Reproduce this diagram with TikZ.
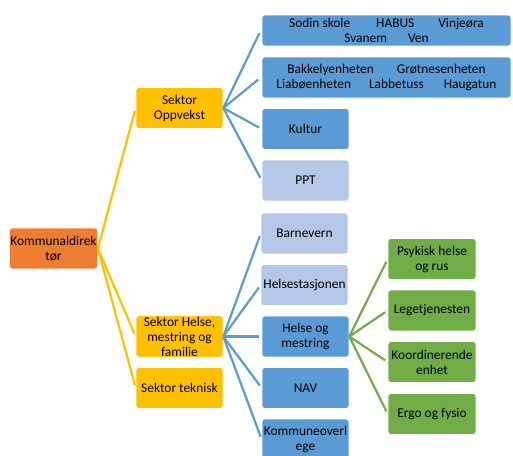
\documentclass[tikz,border=0pt]{standalone}
\usepackage{fontspec}
\setmainfont{Carlito}
\usepackage{xcolor}
\definecolor{orgorange}{RGB}{237,125,49}
\definecolor{orggold}{RGB}{255,192,0}
\definecolor{orgblue}{RGB}{91,155,213}
\definecolor{orglight}{RGB}{180,199,231}
\definecolor{orggreen}{RGB}{112,173,71}
\usepackage{tikz}
\usetikzlibrary{positioning}
\tikzset{
  box/.style      ={rectangle,rounded corners=3pt,draw=white,line width=0.6pt,
                    align=center,inner sep=1pt,minimum width=87pt,minimum height=41pt,
                    font=\fontsize{13.4}{15}\selectfont},
  root/.style     ={box,fill=orgorange},
  sektor/.style   ={box,fill=orggold},
  unit/.style     ={box,fill=orgblue},
  unitlight/.style={box,fill=orglight},
  subunit/.style  ={box,fill=orggreen,minimum width=88pt},
  wideunit/.style ={unit,minimum width=249pt},
  goldlink/.style ={draw=orggold,line width=2.2pt,shorten >=3pt},
  bluelink/.style ={draw=orgblue,line width=2.2pt,shorten >=3pt},
  greenlink/.style={draw=orggreen,line width=2.2pt,shorten >=3pt},
}

\begin{document}
\begin{tikzpicture}[x=1pt,y=-1pt]
  \useasboundingbox (0,0) rectangle (513,455);
  \clip (0,0) rectangle (513,455);

  % ---- top level and sectors -------------------------------------------
  \node[root] (dir) at (53.5,248.5) {Kommunaldirek\\tør};
  \node[sektor] (opp) at (179.5,108) {Sektor\\Oppvekst};
  \node[sektor] (hmf) at (179.5,336.5) {Sektor Helse,\\mestring og\\familie};
  \node[sektor] (tek) at (179.5,388) {Sektor teknisk};

  % ---- oppvekst units ----------------------------------------------------
  \node[wideunit,minimum height=31pt] (sko) at (386.5,30.5)
    {Sodin skole\hspace{26pt}HABUS\hspace{24pt}Vinjeøra\\Svanem\hspace{21pt}Ven};
  \node[wideunit] (bhg) at (386.5,77.5)
    {Bakkelyenheten\hspace{23pt}Grøtnesenheten\\Liabøenheten\hspace{18pt}Labbetuss\hspace{20pt}Haugatun};
  \node[unit] (kul) at (305.5,129) {Kultur};
  \node[unitlight] (ppt) at (305.5,180.5) {PPT};

  % ---- helse, mestring og familie units ----------------------------------
  \node[unitlight] (bar) at (304.5,233.5) {Barnevern};
  \node[unitlight] (hst) at (304.5,285) {Helsestasjonen};
  \node[unit] (hom) at (305.5,336.5) {Helse og\\mestring};
  \node[unit] (nav) at (305.5,388) {NAV};
  \node[unit] (kov) at (305.5,439.5) {Kommuneoverl\\ege};

  % ---- helse og mestring sub-units ---------------------------------------
  \node[subunit] (psy) at (432,259) {Psykisk helse\\og rus};
  \node[subunit] (leg) at (432,310.5) {Legetjenesten};
  \node[subunit] (koo) at (432,362) {Koordinerende\\enhet};
  \node[subunit] (erg) at (432,414) {Ergo og fysio};

  % ---- connectors --------------------------------------------------------
  \foreach \c in {opp,hmf,tek}
    \draw[goldlink] (dir.east) -- (\c.west);
  \foreach \c in {sko,bhg}
    \draw[bluelink] (opp.east) -- ([xshift=-1pt]\c.west);
  \foreach \c in {kul,ppt}
    \draw[bluelink] (opp.east) -- (\c.west);
  \foreach \c in {bar,hst,hom,nav,kov}
    \draw[bluelink] (hmf.east) -- (\c.west);
  \foreach \c in {psy,leg,koo,erg}
    \draw[greenlink] (hom.east) -- (\c.west);
\end{tikzpicture}
\end{document}
